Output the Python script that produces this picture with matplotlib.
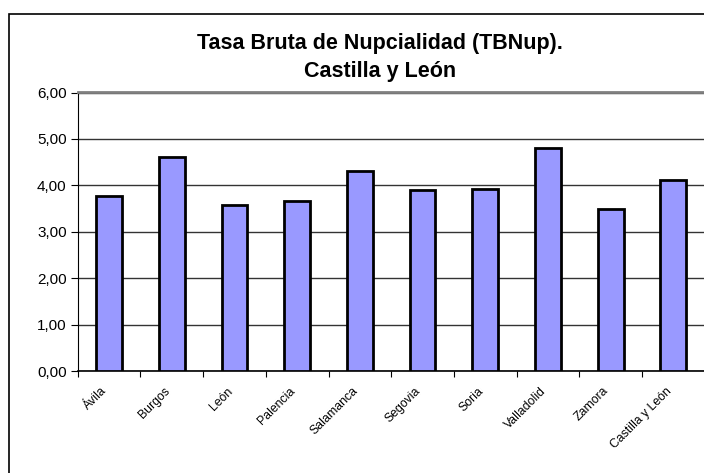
import matplotlib
matplotlib.use('Agg')
import matplotlib.pyplot as plt
import matplotlib.transforms as mtransforms
import numpy as np
from matplotlib.patches import Rectangle

provincias = ['Ávila', 'Burgos', 'León', 'Palencia', 'Salamanca', 'Segovia',
              'Soria', 'Valladolid', 'Zamora', 'Castilla y León']
tbnup = [3.76, 4.61, 3.58, 3.66, 4.30, 3.89, 3.92, 4.80, 3.48, 4.11]
yticks = [0, 1, 2, 3, 4, 5, 6]

plt.rcParams['font.family'] = ['Liberation Sans', 'DejaVu Sans']

fig = plt.figure(figsize=(7.04, 4.73), dpi=100)

# outer chart frame (the picture is cropped on the right and bottom)
fig.patches.append(Rectangle((9 / 704, -0.1), 1.2, 1.1 - 14 / 473,
                             transform=fig.transFigure, fill=False,
                             edgecolor='black', linewidth=1.2))

ax = fig.add_axes([77.7 / 704, 1 - 371 / 473, 627 / 704, (371 - 92.5) / 473])

x = np.arange(len(provincias))
ax.bar(x, tbnup, width=0.41, color='#9999ff', edgecolor='black',
       linewidth=2, zorder=3)

ax.set_xlim(-0.5, len(provincias) - 0.5)
ax.set_ylim(0, 6)
ax.set_yticks(yticks)
ax.set_yticklabels([('%.2f' % v).replace('.', ',') for v in yticks], fontsize=11)
ax.yaxis.grid(True, color='#333333', linewidth=1, zorder=0)

# ticks between categories
ax.set_xticks(np.arange(-0.5, len(provincias), 1.0))
ax.set_xticklabels([])
ax.tick_params(axis='x', length=4, direction='out', color='black')
ax.tick_params(axis='y', length=5, direction='out', pad=3)

# rotated category labels, right end just left of the bar centre
offset = mtransforms.ScaledTranslation(-8 / 100, -14 / 100, fig.dpi_scale_trans)
for xi, name in zip(x, provincias):
    ax.text(xi, 0, name, transform=ax.get_xaxis_transform() + offset,
            rotation=45, ha='right', va='top', rotation_mode='anchor',
            fontsize=8.8)

ax.spines['top'].set_color('#808080')
ax.spines['top'].set_linewidth(2)
ax.spines['right'].set_visible(False)
ax.spines['left'].set_color('black')
ax.spines['bottom'].set_color('black')
ax.spines['bottom'].set_linewidth(1.2)

fig.text(380 / 704, 1 - 44 / 473, 'Tasa Bruta de Nupcialidad (TBNup).',
         ha='center', va='center', fontsize=15.5, fontweight='bold')
fig.text(380 / 704, 1 - 71 / 473, 'Castilla y León',
         ha='center', va='center', fontsize=15.5, fontweight='bold')

fig.savefig('out.png', dpi=100)
